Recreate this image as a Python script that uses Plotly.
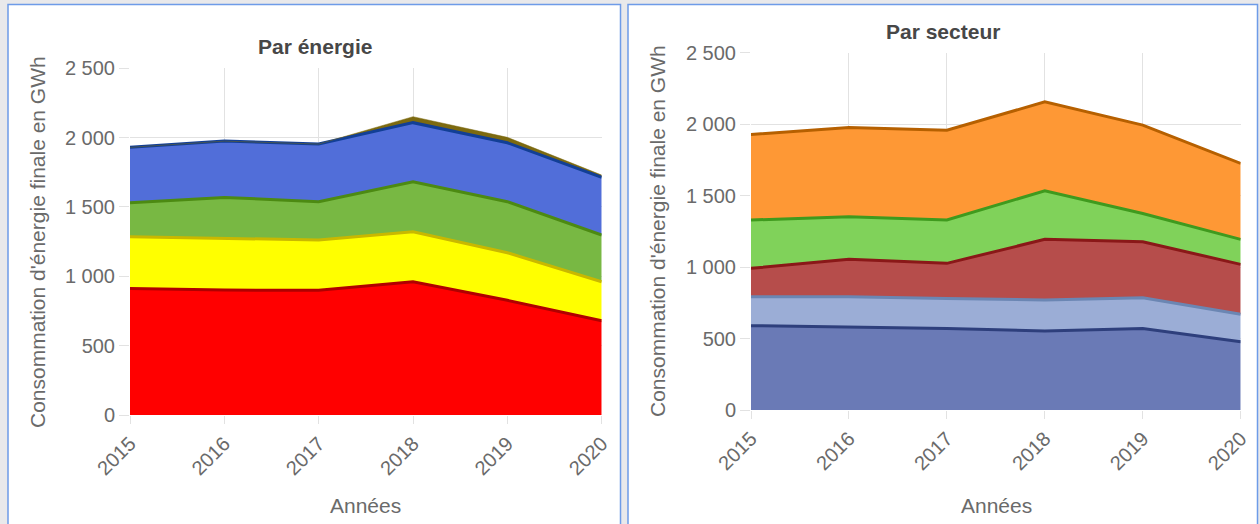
import plotly.graph_objects as go

# Years on the horizontal axis
years = [2015, 2016, 2017, 2018, 2019, 2020]

# "Par énergie" — stacked from bottom to top (GWh)
energie_rouge = [913, 901, 899, 961, 827, 680]
energie_jaune = [373, 373, 363, 361, 343, 281]
energie_verte = [245, 295, 276, 360, 368, 337]
energie_bleue = [399, 406, 416, 426, 425, 416]
energie_brune = [0, 0, 0, 43, 39, 16]

# "Par secteur" — stacked from bottom to top (GWh)
secteur_bleu_fonce = [590, 578, 571, 552, 571, 478]
secteur_bleu_clair = [202, 214, 210, 217, 214, 192]
secteur_rouge = [199, 262, 245, 425, 392, 349]
secteur_vert = [338, 298, 303, 340, 198, 175]
secteur_orange = [599, 625, 629, 622, 618, 531]

y_ticks = [0, 500, 1000, 1500, 2000, 2500]
y_ticktext = ["0", "500", "1\u00a0000", "1\u00a0500", "2\u00a0000", "2\u00a0500"]

W, H = 1260, 524
FONT = "Liberation Sans, Arial, sans-serif"
TEXT_GREY = "#6a6a6a"
GRID = "#e2e2e2"


def px(x):
    return x / W


def py(y):
    return 1 - y / H


# (name, values, fill colour, edge colour, edge width)
energie_series = [
    ("Énergie A", energie_rouge, "#ff0000", "#b00000", 3),
    ("Énergie B", energie_jaune, "#ffff00", "#c9b800", 3),
    ("Énergie C", energie_verte, "#78b843", "#4c8a12", 3),
    ("Énergie D", energie_bleue, "#516ed9", "#123f96", 3),
    ("Énergie E", energie_brune, "#7d6a10", "#7d6a10", 0.5),
]

secteur_series = [
    ("Secteur A", secteur_bleu_fonce, "#6a7ab6", "#2e3f7c", 3),
    ("Secteur B", secteur_bleu_clair, "#9badd6", "#6b86b3", 3),
    ("Secteur C", secteur_rouge, "#b64d4b", "#8a1818", 3),
    ("Secteur D", secteur_vert, "#80d25a", "#3f9a1e", 3),
    ("Secteur E", secteur_orange, "#fe9835", "#b66000", 3),
]

fig = go.Figure()

for name, vals, fill, line, lw in energie_series:
    fig.add_trace(go.Scatter(
        x=years, y=vals, name=name, mode="lines",
        stackgroup="energie", fillcolor=fill,
        line=dict(color=line, width=lw),
        xaxis="x", yaxis="y", showlegend=False,
    ))

for name, vals, fill, line, lw in secteur_series:
    fig.add_trace(go.Scatter(
        x=years, y=vals, name=name, mode="lines",
        stackgroup="secteur", fillcolor=fill,
        line=dict(color=line, width=lw),
        xaxis="x2", yaxis="y2", showlegend=False,
    ))

xaxis_common = dict(
    range=[2015, 2020], tickvals=years, tickangle=-45,
    showgrid=True, gridcolor=GRID, gridwidth=1,
    ticks="outside", ticklen=8, tickcolor=GRID,
    tickfont=dict(family=FONT, size=20, color=TEXT_GREY),
    zeroline=False, showline=False, automargin=False, fixedrange=True,
)
yaxis_common = dict(
    range=[0, 2500], tickvals=y_ticks, ticktext=y_ticktext,
    showgrid=True, gridcolor=GRID, gridwidth=1,
    ticks="outside", ticklen=10, tickcolor=GRID,
    tickfont=dict(family=FONT, size=20, color=TEXT_GREY),
    zeroline=False, showline=False, automargin=False, fixedrange=True,
)

fig.update_layout(
    width=W, height=H,
    margin=dict(l=0, r=0, t=0, b=0),
    paper_bgcolor="#e9e9eb",
    plot_bgcolor="rgba(0,0,0,0)",
    xaxis=dict(domain=[px(130), px(601.7)], anchor="y", **xaxis_common),
    yaxis=dict(domain=[py(415), py(68.3)], anchor="x", **yaxis_common),
    xaxis2=dict(domain=[px(751), px(1240.7)], anchor="y2", **xaxis_common),
    yaxis2=dict(domain=[py(410), py(52.7)], anchor="x2", **yaxis_common),
    shapes=[
        dict(type="rect", xref="paper", yref="paper",
             x0=px(8), x1=px(620.5), y0=-0.05, y1=py(4.5),
             fillcolor="white", line=dict(color="#6e9be8", width=1.5),
             layer="below"),
        dict(type="rect", xref="paper", yref="paper",
             x0=px(628), x1=px(1257.5), y0=-0.05, y1=py(4.5),
             fillcolor="white", line=dict(color="#6e9be8", width=1.5),
             layer="below"),
    ],
)

title_font = dict(family=FONT, size=21, color="#474747")
label_font = dict(family=FONT, size=21, color=TEXT_GREY)
y_title = "Consommation d'énergie finale en GWh"

annotations = [
    dict(text="<b>Par énergie</b>", x=px(315), y=py(47), font=title_font),
    dict(text="<b>Par secteur</b>", x=px(943), y=py(32), font=title_font),
    dict(text="Années", x=px(365.8), y=py(505), font=label_font),
    dict(text="Années", x=px(996), y=py(505), font=label_font),
    dict(text=y_title, x=px(37), y=py(242), textangle=-90, font=label_font),
    dict(text=y_title, x=px(657), y=py(231), textangle=-90, font=label_font),
]
for a in annotations:
    a.update(xref="paper", yref="paper", xanchor="center", yanchor="middle",
             showarrow=False)
fig.update_layout(annotations=annotations)

fig.write_html("out.html")
